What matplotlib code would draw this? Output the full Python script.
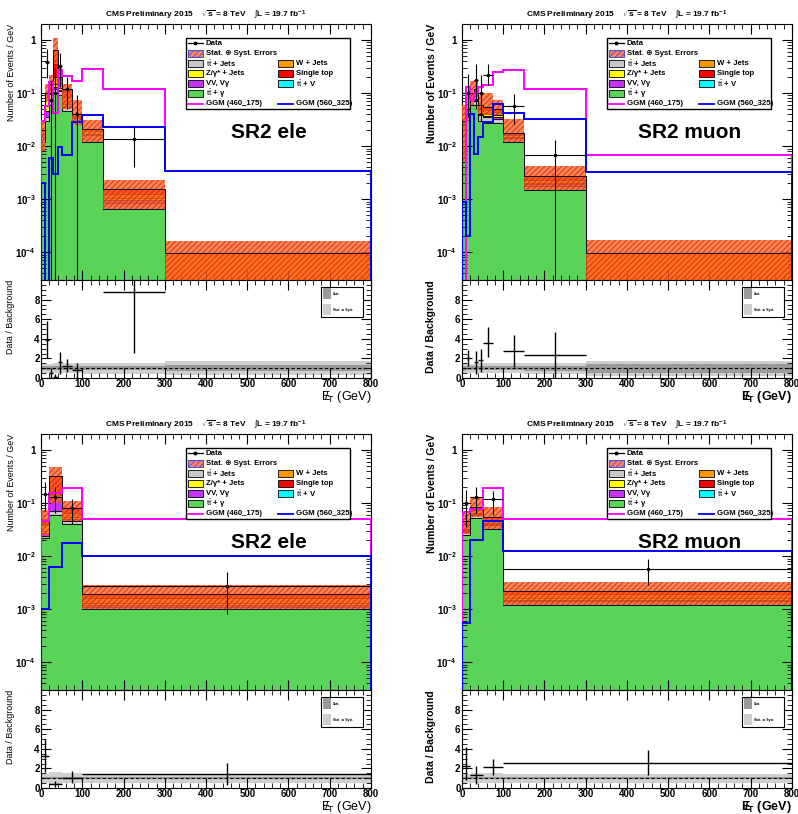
"""SR2 missing-ET distributions (ele / muon), fine and coarse binning, with data/background ratio."""
import matplotlib
matplotlib.use("Agg")
import matplotlib.pyplot as plt
import matplotlib.ticker as ticker
from matplotlib.patches import Rectangle
from matplotlib.lines import Line2D
import numpy as np

plt.rcParams["font.family"] = ["Liberation Sans", "DejaVu Sans"]
plt.rcParams["mathtext.fontset"] = "custom"
plt.rcParams["mathtext.rm"] = "Liberation Sans"
plt.rcParams["mathtext.bf"] = "Liberation Sans:bold"
plt.rcParams["mathtext.it"] = "Liberation Sans:italic"
plt.rcParams["hatch.linewidth"] = 0.6

# ── Data (events / GeV) ────────────────────────────────────

FINE_EDGES = [0, 10, 20, 30, 40, 50, 75, 100, 150, 300, 800]
COARSE_EDGES = [0, 20, 50, 100, 800]

# SR2 ele, fine bins
ELE_F_TTG = [0.012, 0.03, 0.06, 0.1, 0.09, 0.045, 0.03, 0.012, 6.5e-4, 0]
ELE_F_TTJ = [0.003, 0.005, 0.01, 0.02, 0.02, 0.01, 0.004, 0.004, 2e-4, 0]
ELE_F_VV = [0.002, 0.01, 0.005, 0.01, 0.005, 0.003, 0.001, 0.001, 1e-4, 0]
ELE_F_Z = [0.002, 0.03, 0.02, 0.02, 0.01, 0.005, 0.002, 0.002, 1e-4, 0]
ELE_F_W = [0.001, 0.015, 0.02, 0.05, 0.03, 0.02, 0.003, 0.002, 2e-4, 9.5e-5]
ELE_F_TOP = [0, 0.01, 0.035, 0.45, 0.05, 0.036, 0, 0, 3e-4, 0]
ELE_F_BAND_LO = [0.008, 0.07, 0.1, 0.35, 0.13, 0.05, 0.025, 0.012, 6.5e-4, 1e-5]
ELE_F_BAND_HI = [0.03, 0.15, 0.22, 1.1, 0.33, 0.15, 0.075, 0.031, 2.3e-3, 1.6e-4]
ELE_F_DATA = [np.nan, 0.39, 0.075, 0.1, 0.33, 0.12, 0.04, np.nan, 0.0135, np.nan]
ELE_F_DATA_LO = [0, 0.2, 0.075, 0.1, 0.2, 0.07, 0.04, 0, 0.0095, 0]
ELE_F_DATA_HI = [0, 0.3, 0.1, 0.2, 0.25, 0.08, 0.05, 0, 0.0095, 0]
ELE_F_GGM1 = [0.03, 0.056, 0.16, 0.042, 0.27, 0.21, 0.17, 0.28, 0.12, 3.4e-3]
ELE_F_GGM2 = [2e-3, 0, 6e-3, 3e-3, 9.7e-3, 6.7e-3, 0.028, 0.039, 0.023, 3.4e-3]
ELE_F_RATIO = [np.nan, 3.9, 0.5, 0.15, 1.6, 1.2, 0.8, np.nan, 8.8, np.nan]
ELE_F_RATIO_LO = [0, 1.9, 0.5, 0.15, 1.2, 0.6, 0.8, 0, 6.2, 0]
ELE_F_RATIO_HI = [0, 1.9, 0.5, 0.3, 1.1, 0.7, 0.7, 0, 3.5, 0]
ELE_F_STAT = [0.2, 0.2, 0.2, 0.2, 0.2, 0.2, 0.2, 0.2, 0.22, 0.3]
ELE_F_SYST = [0.45, 0.45, 0.45, 0.5, 0.5, 0.5, 0.5, 0.55, 0.55, 0.7]

# SR2 muon, fine bins
MU_F_TTG = [0.01, 0.035, 0.06, 0.06, 0.03, 0.027, 0.027, 0.012, 1.5e-3, 0]
MU_F_TTJ = [0.005, 0.005, 0.01, 0.01, 0.008, 0.008, 0.006, 0.002, 3e-4, 0]
MU_F_VV = [0.002, 0.002, 0.003, 0.003, 0.002, 0.002, 0.002, 0.001, 1e-4, 0]
MU_F_Z = [0.003, 0.003, 0.005, 0.005, 0.003, 0.003, 0.003, 0.001, 1e-4, 0]
MU_F_W = [0.005, 0.003, 0.01, 0.012, 0.008, 0.008, 0.006, 0.001, 3e-4, 9.5e-5]
MU_F_TOP = [0.005, 0.002, 0.012, 0.03, 0.009, 0.007, 0.006, 0.001, 4e-4, 0]
MU_F_BAND_LO = [0.005, 0.03, 0.06, 0.085, 0.04, 0.039, 0.039, 0.012, 1.5e-3, 1e-5]
MU_F_BAND_HI = [0.06, 0.09, 0.17, 0.18, 0.09, 0.1, 0.075, 0.033, 4.2e-3, 1.7e-4]
MU_F_DATA = [np.nan, 0.1, np.nan, 0.18, 0.1, 0.22, np.nan, 0.058, 6.7e-3, np.nan]
MU_F_DATA_LO = [0, 0.065, 0, 0.13, 0.07, 0.08, 0, 0.032, 6.7e-3, 0]
MU_F_DATA_HI = [0, 0.13, 0, 0.17, 0.12, 0.13, 0, 0.04, 6.6e-3, 0]
MU_F_GGM1 = [0, 0.13, 0.075, 0.1, 0.13, 0.14, 0.25, 0.27, 0.12, 6.7e-3]
MU_F_GGM2 = [9e-4, 2e-4, 0.04, 7e-3, 0.015, 0.029, 0.062, 0.043, 0.032, 3.3e-3]
MU_F_RATIO = [np.nan, 2.0, np.nan, 1.6, 1.8, 3.6, np.nan, 2.8, 2.4, np.nan]
MU_F_RATIO_LO = [0, 0.8, 0, 1.2, 1.2, 1.5, 0, 1.7, 2.4, 0]
MU_F_RATIO_HI = [0, 0.9, 0, 1.2, 1.2, 1.6, 0, 1.6, 2.3, 0]
MU_F_STAT = [0.25, 0.2, 0.2, 0.2, 0.2, 0.2, 0.2, 0.2, 0.25, 0.45]
MU_F_SYST = [0.5, 0.45, 0.45, 0.45, 0.5, 0.5, 0.5, 0.5, 0.55, 0.75]

# SR2 ele, coarse bins
ELE_C_TTG = [0.022, 0.06, 0.04, 1.0e-3]
ELE_C_TTJ = [0.002, 0.01, 0.005, 1e-4]
ELE_C_VV = [0.003, 0.06, 0.005, 1e-4]
ELE_C_Z = [0.012, 0.01, 0.005, 1e-4]
ELE_C_W = [0.003, 0.01, 0.01, 3e-4]
ELE_C_TOP = [0.003, 0.17, 0.015, 3e-4]
ELE_C_BAND_LO = [0.025, 0.1, 0.045, 1e-3]
ELE_C_BAND_HI = [0.075, 0.48, 0.11, 2.8e-3]
ELE_C_DATA = [0.15, 0.13, 0.08, 2.7e-3]
ELE_C_DATA_LO = [0.08, 0.065, 0.04, 1.9e-3]
ELE_C_DATA_HI = [0.1, 0.07, 0.04, 2.3e-3]
ELE_C_GGM1 = [0.045, 0.155, 0.19, 0.05]
ELE_C_GGM2 = [1e-3, 6.2e-3, 0.018, 0.01]
ELE_C_RATIO = [3.3, 0.4, 1.0, 1.45]
ELE_C_RATIO_LO = [1.7, 0.3, 0.5, 1.15]
ELE_C_RATIO_HI = [1.7, 0.3, 0.7, 1.15]
ELE_C_STAT = [0.1, 0.12, 0.1, 0.1]
ELE_C_SYST = [0.45, 0.6, 0.5, 0.45]

# SR2 muon, coarse bins
MU_C_TTG = [0.025, 0.052, 0.033, 1.2e-3]
MU_C_TTJ = [0.004, 0.008, 0.005, 2e-4]
MU_C_VV = [0.002, 0.003, 0.002, 1e-4]
MU_C_Z = [0.002, 0.003, 0.002, 1e-4]
MU_C_W = [0.006, 0.009, 0.006, 3e-4]
MU_C_TOP = [0.006, 0.01, 0.007, 3e-4]
MU_C_BAND_LO = [0.026, 0.055, 0.033, 1.2e-3]
MU_C_BAND_HI = [0.065, 0.13, 0.085, 3.3e-3]
MU_C_DATA = [0.1, 0.13, 0.12, 5.7e-3]
MU_C_DATA_LO = [0.065, 0.065, 0.06, 2.9e-3]
MU_C_DATA_HI = [0.08, 0.07, 0.05, 3.3e-3]
MU_C_GGM1 = [0.068, 0.077, 0.196, 0.05]
MU_C_GGM2 = [5.6e-4, 0.02, 0.046, 0.0127]
MU_C_RATIO = [2.2, 1.35, 2.1, 2.6]
MU_C_RATIO_LO = [1.4, 0.95, 0.8, 1.3]
MU_C_RATIO_HI = [2.0, 0.85, 0.9, 1.3]
MU_C_STAT = [0.1, 0.1, 0.1, 0.1]
MU_C_SYST = [0.45, 0.5, 0.5, 0.45]

# ── Styling ────────────────────────────────────────────────

STACK = [
    ("ttg", "#59d459"),
    ("ttj", "#c8c8c8"),
    ("vv", "#c832ff"),
    ("z", "#ffff00"),
    ("w", "#ff9900"),
    ("top", "#ff0000"),
]
BAND_FACE = (1.0, 0.40, 0.18, 0.8)
BAND_HATCH = "#d02800"
GGM1_COLOR = "#ff00ff"
GGM2_COLOR = "#0000ff"
Y_FLOOR = 1e-7

TTBAR = r"$\mathrm{t\bar{t}}$"
LEGEND_ROWS = [
    [("line", "Data", "black"), None],
    [("band", "Stat. \u2295 Syst. Errors", None), None],
    [("patch", TTBAR + " + Jets", "#c8c8c8"), ("patch", "W + Jets", "#ff9900")],
    [("patch", "Z/\u03b3* + Jets", "#ffff00"), ("patch", "Single top", "#ff0000")],
    [("patch", "VV, V\u03b3", "#c832ff"), ("patch", TTBAR + " + V", "#00ffff")],
    [("patch", TTBAR + " + \u03b3", "#59d459"), None],
    [("ggm", "GGM (460_175)", GGM1_COLOR), ("ggm", "GGM (560_325)", GGM2_COLOR)],
]


def panel(edges, prefix, label, bold):
    g = globals()
    keys = ["TTG", "TTJ", "VV", "Z", "W", "TOP", "BAND_LO", "BAND_HI", "DATA",
            "DATA_LO", "DATA_HI", "GGM1", "GGM2", "RATIO", "RATIO_LO", "RATIO_HI",
            "STAT", "SYST"]
    p = {k.lower(): np.asarray(g[f"{prefix}_{k}"], dtype=float) for k in keys}
    p.update(edges=np.asarray(edges, dtype=float), label=label, bold=bold)
    return p


PANELS = [
    (panel(FINE_EDGES, "ELE_F", "SR2 ele", False), 0.0514, 0.656, 0.5356),
    (panel(FINE_EDGES, "MU_F", "SR2 muon", True), 0.5789, 0.656, 0.5356),
    (panel(COARSE_EDGES, "ELE_C", "SR2 ele", False), 0.0514, 0.1523, 0.0319),
    (panel(COARSE_EDGES, "MU_C", "SR2 muon", True), 0.5789, 0.1523, 0.0319),
]
AX_W, MAIN_H, RATIO_H = 0.4135, 0.3145, 0.1204


def log_label(v, pos):
    if abs(v - 1.0) < 1e-9:
        return "1"
    return r"$\mathbf{10^{%d}}$" % int(round(np.log10(v)))


def draw_main(ax, p):
    edges = p["edges"]
    centers = 0.5 * (edges[1:] + edges[:-1])
    half = 0.5 * np.diff(edges)

    base = np.full(len(centers), Y_FLOOR)
    for key, color in STACK:
        top = base + p[key]
        ax.stairs(top, edges, baseline=base, fill=True, facecolor=color, edgecolor="none", zorder=1)
        ax.stairs(top, edges, baseline=base, color="black", lw=0.5, zorder=2)
        base = top

    ax.stairs(p["band_hi"], edges, baseline=p["band_lo"], fill=True, facecolor=BAND_FACE,
              edgecolor=BAND_HATCH, hatch="//////", lw=0, zorder=3)
    ax.stairs(base, edges, baseline=Y_FLOOR, color="black", lw=0.6, zorder=4)

    ax.stairs(p["ggm1"], edges, baseline=Y_FLOOR, color=GGM1_COLOR, lw=1.4, zorder=5)
    ax.stairs(p["ggm2"], edges, baseline=Y_FLOOR, color=GGM2_COLOR, lw=1.4, zorder=6)

    ax.errorbar(centers, p["data"], xerr=half, yerr=[p["data_lo"], p["data_hi"]],
                fmt="o", ms=1.5, color="black", elinewidth=0.8, capsize=0, zorder=7)

    ax.set_xlim(0, 800)
    ax.set_yscale("log")
    ax.set_ylim(3e-5, 2)
    ax.yaxis.set_major_locator(ticker.LogLocator(base=10, numticks=12))
    ax.yaxis.set_minor_locator(ticker.LogLocator(base=10, subs=np.arange(2, 10), numticks=12))
    ax.yaxis.set_major_formatter(ticker.FuncFormatter(log_label))
    ax.yaxis.set_minor_formatter(ticker.NullFormatter())
    ax.xaxis.set_major_locator(ticker.MultipleLocator(100))
    ax.xaxis.set_minor_locator(ticker.MultipleLocator(20))
    ax.tick_params(which="both", direction="in", top=True, right=True, labelbottom=False)
    ax.tick_params(which="major", length=7, labelsize=7)
    ax.tick_params(which="minor", length=3.5)
    for t in ax.get_yticklabels():
        t.set_fontweight("bold")

    weight = "bold" if p["bold"] else "normal"
    ax.set_ylabel("Number of Events / GeV", loc="top", fontsize=7.6 if p["bold"] else 6.4,
                  fontweight=weight)
    ax.yaxis.set_label_coords(-0.076, 1.0)

    ax.text(0.5, 1.033, r"CMS Preliminary 2015    $\sqrt{\mathbf{s}}$ = 8 TeV    "
            r"$\int$L = 19.7 fb$^{\mathbf{-1}}$",
            transform=ax.transAxes, ha="center", va="center", fontsize=6, fontweight="bold")
    ax.text(0.69, 0.577, p["label"], transform=ax.transAxes, ha="center", va="center",
            fontsize=15, fontweight="bold", zorder=8)
    draw_legend(ax)


def draw_legend(ax):
    tr = ax.transAxes
    ax.add_patch(Rectangle((0.439, 0.668), 0.497, 0.277, transform=tr, facecolor="white",
                           edgecolor="black", lw=1.0, zorder=20))
    col_x = [(0.445, 0.499), (0.718, 0.773)]
    row_y = 0.924
    for row in LEGEND_ROWS:
        for (sx, tx), entry in zip(col_x, row):
            if entry is None:
                continue
            kind, text, color = entry
            if kind == "line":
                ax.add_line(Line2D([sx, sx + 0.046], [row_y, row_y], transform=tr,
                                   color=color, lw=0.9, zorder=21))
                ax.add_line(Line2D([sx + 0.023], [row_y], transform=tr, color=color,
                                   marker="o", ms=1.8, zorder=21))
            elif kind == "ggm":
                ax.add_line(Line2D([sx, sx + 0.046], [row_y, row_y], transform=tr,
                                   color=color, lw=1.3, zorder=21))
            elif kind == "band":
                ax.add_patch(Rectangle((sx, row_y - 0.013), 0.046, 0.026, transform=tr,
                                       facecolor=BAND_FACE, edgecolor="#5050d0", hatch="//////",
                                       lw=0.8, zorder=21))
            else:
                ax.add_patch(Rectangle((sx, row_y - 0.013), 0.046, 0.026, transform=tr,
                                       facecolor=color, edgecolor="black", lw=0.6, zorder=21))
            ax.text(tx, row_y, text, transform=tr, ha="left", va="center", fontsize=5.6,
                    fontweight="bold", zorder=22)
        row_y -= 0.0393


def draw_ratio(ax, p):
    edges = p["edges"]
    centers = 0.5 * (edges[1:] + edges[:-1])
    half = 0.5 * np.diff(edges)

    ax.stairs(1 + p["syst"], edges, baseline=1 - p["syst"], fill=True, color="#cfcfcf", lw=0)
    ax.stairs(1 + p["stat"], edges, baseline=1 - p["stat"], fill=True, color="#9a9a9a", lw=0)
    ax.axhline(1.0, color="black", lw=0.8, ls=(0, (3, 2)))
    ax.errorbar(centers, p["ratio"], xerr=half, yerr=[p["ratio_lo"], p["ratio_hi"]],
                fmt="none", ecolor="black", elinewidth=1.0, capsize=0)

    ax.set_xlim(0, 800)
    ax.set_ylim(0, 10)
    ax.xaxis.set_major_locator(ticker.MultipleLocator(100))
    ax.xaxis.set_minor_locator(ticker.MultipleLocator(20))
    ax.yaxis.set_major_locator(ticker.FixedLocator([0, 2, 4, 6, 8]))
    ax.yaxis.set_minor_locator(ticker.MultipleLocator(0.5))
    ax.tick_params(which="both", direction="in", top=True, right=True)
    ax.tick_params(which="major", length=7, labelsize=7, pad=1.0)
    ax.tick_params(which="minor", length=3.5)
    for t in ax.get_xticklabels() + ax.get_yticklabels():
        t.set_fontweight("bold")

    weight = "bold" if p["bold"] else "normal"
    ax.set_ylabel("Data / Background", loc="top", fontsize=7.6 if p["bold"] else 6.4,
                  fontweight=weight)
    ax.yaxis.set_label_coords(-0.08, 1.0)
    if p["bold"]:
        met = r"$\mathbf{E\!\!\!/}_{\mathbf{T}}$ (GeV)"
    else:
        met = r"$\mathrm{E\!\!\!/}_{\mathrm{T}}$ (GeV)"
    ax.set_xlabel(met, loc="right", fontsize=9, fontweight=weight, va="top")
    ax.xaxis.set_label_coords(1.0, -0.112)

    # stat / stat+syst legend
    tr = ax.transAxes
    ax.add_patch(Rectangle((0.848, 0.622), 0.128, 0.307, transform=tr, facecolor="white",
                           edgecolor="black", lw=0.8, zorder=20))
    for y, color, text in [(0.806, "#9a9a9a", "Stat."), (0.643, "#cfcfcf", "Stat. \u2295 Syst.")]:
        ax.add_patch(Rectangle((0.854, y), 0.025, 0.11, transform=tr, facecolor=color,
                               edgecolor="none", zorder=21))
        ax.text(0.886, y + 0.055, text, transform=tr, ha="left", va="center",
                fontsize=2.4, fontweight="bold", zorder=22)


fig = plt.figure(figsize=(7.98, 8.14), dpi=100)
for p, left, main_bottom, ratio_bottom in PANELS:
    ax_main = fig.add_axes([left, main_bottom, AX_W, MAIN_H])
    ax_ratio = fig.add_axes([left, ratio_bottom, AX_W, RATIO_H])
    draw_main(ax_main, p)
    draw_ratio(ax_ratio, p)

fig.savefig("out.png", dpi=100)
